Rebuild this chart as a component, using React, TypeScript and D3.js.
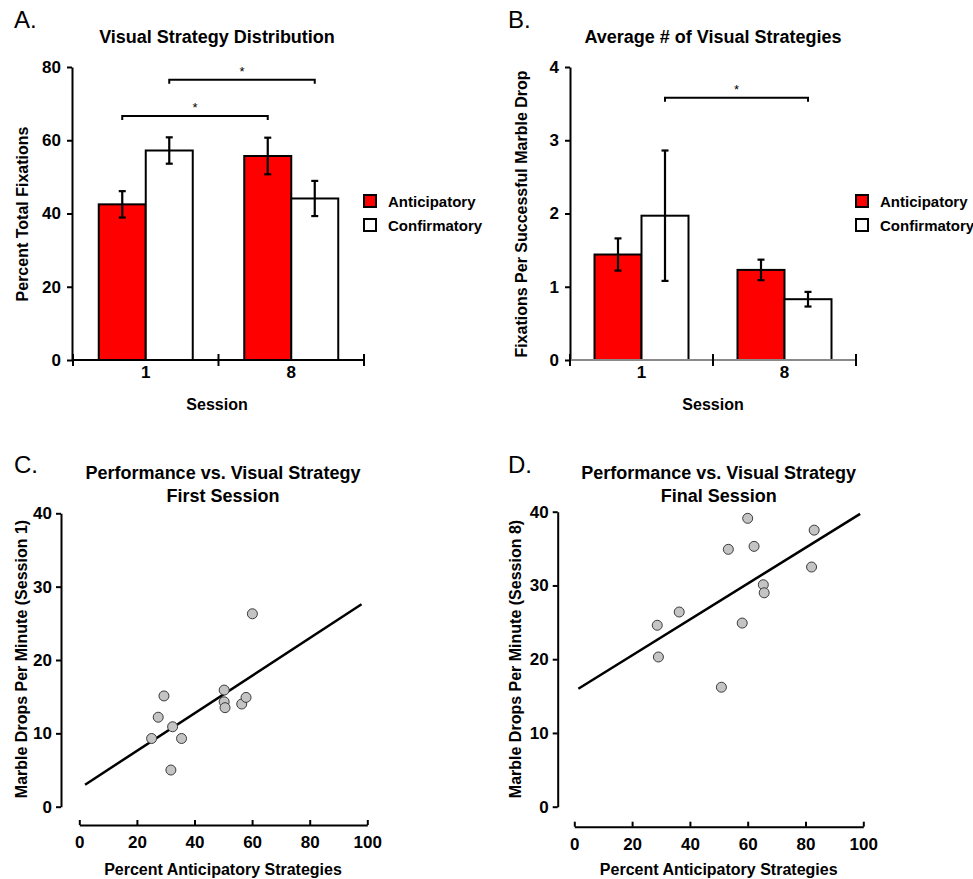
import React, { useRef, useEffect } from "react";
import * as d3 from "d3";

const sessions = ["1", "8"];
const strategies = ["Anticipatory", "Confirmatory"];
const strategyFill = ["#ff0000", "#ffffff"];

// A. percent of total fixations, per session
const distAnticipatory = [42.5, 55.7];
const distAnticipatoryErr = [3.6, 5.0];
const distConfirmatory = [57.2, 44.1];
const distConfirmatoryErr = [3.6, 4.8];
const distBrackets = [
  { strategy: "Anticipatory", level: 66.6 },
  { strategy: "Confirmatory", level: 76.5 },
];

// B. fixations per successful marble drop
const avgAnticipatory = [1.44, 1.23];
const avgAnticipatoryErr = [0.22, 0.14];
const avgConfirmatory = [1.97, 0.83];
const avgConfirmatoryErr = [0.89, 0.1];
const avgBrackets = [{ strategy: "Confirmatory", level: 3.58 }];

// C. first session
const firstPct = [60.1, 29.4, 27.4, 25.1, 32.4, 35.5, 31.8, 50.3, 50.3, 50.6, 56.4, 57.9];
const firstRate = [26.3, 15.1, 12.2, 9.3, 10.9, 9.3, 5.0, 15.9, 14.3, 13.5, 14.0, 14.9];
const firstFitX = [2, 98];
const firstFitY = [3.0, 27.6];

// D. final session
const finalPct = [60.0, 83.0, 53.3, 62.2, 82.1, 65.4, 65.7, 36.3, 28.7, 58.1, 29.1, 50.9];
const finalRate = [39.1, 37.5, 34.9, 35.3, 32.5, 30.1, 29.0, 26.4, 24.6, 24.9, 20.3, 16.2];
const finalFitX = [1.4, 98.9];
const finalFitY = [16.0, 39.7];

const FONT = "'Liberation Sans', Arial, Helvetica, sans-serif";

const App = () => {
  const svgRef = useRef();

  useEffect(() => {
    const svg = d3.select(svgRef.current);
    svg.selectAll("*").remove();

    const txt = (x, y, s, size, opts = {}) =>
      svg
        .append("text")
        .attr("x", x)
        .attr("y", y)
        .attr("text-anchor", opts.anchor || "middle")
        .attr("font-family", FONT)
        .attr("font-size", size)
        .attr("font-weight", opts.weight || "bold")
        .attr("transform", opts.rotate ? `rotate(-90,${x},${y})` : null)
        .attr("fill", "#000")
        .text(s);

    const styleAxis = (g) => {
      g.selectAll("path, line").attr("stroke", "#000").attr("stroke-width", 2);
      g.selectAll("text")
        .attr("font-family", FONT)
        .attr("font-size", 17)
        .attr("font-weight", "bold")
        .attr("fill", "#000");
    };

    const barPanel = (p) => {
      const y = d3.scaleLinear().domain([0, p.max]).range([360, 67]);
      const x = d3.scaleBand().domain(sessions).range(p.band);
      const inner = d3.scaleBand().domain(strategies).range([-47, 47]);

      svg
        .append("g")
        .attr("transform", `translate(${p.x0},0)`)
        .call(
          d3
            .axisLeft(y)
            .tickValues(p.ticks)
            .tickFormat(d3.format("d"))
            .tickSize(5)
            .tickSizeOuter(0)
            .tickPadding(6)
        )
        .call(styleAxis);

      // bars + error bars
      sessions.forEach((s, i) => {
        strategies.forEach((k, j) => {
          const v = p.values[j][i];
          const e = p.errors[j][i];
          const bx = x(s) + x.bandwidth() / 2 + inner(k);
          svg
            .append("rect")
            .attr("x", bx)
            .attr("y", y(v))
            .attr("width", inner.bandwidth())
            .attr("height", y(0) - y(v))
            .attr("fill", strategyFill[j])
            .attr("stroke", "#000")
            .attr("stroke-width", 2);
          const cx = bx + inner.bandwidth() / 2;
          const eb = svg.append("g").attr("stroke", "#000").attr("stroke-width", 2.2);
          eb.append("line").attr("x1", cx).attr("x2", cx).attr("y1", y(v - e)).attr("y2", y(v + e));
          [v - e, v + e].forEach((t) =>
            eb.append("line").attr("x1", cx - 3.5).attr("x2", cx + 3.5).attr("y1", y(t)).attr("y2", y(t))
          );
        });
      });

      // session axis
      const [b0, b1] = x.range();
      svg
        .append("line")
        .attr("x1", b0)
        .attr("x2", b1)
        .attr("y1", y(0))
        .attr("y2", y(0))
        .attr("stroke", p.baseColor)
        .attr("stroke-width", 2);
      [b0, x("8"), b1].forEach((tx) =>
        svg
          .append("line")
          .attr("x1", tx)
          .attr("x2", tx)
          .attr("y1", y(0) - 6)
          .attr("y2", y(0) + 6)
          .attr("stroke", "#000")
          .attr("stroke-width", 2)
      );
      sessions.forEach((s) => txt(x(s) + x.bandwidth() / 2, 377.7, s, 17));

      // significance brackets
      p.brackets.forEach((b) => {
        const xa = x("1") + x.bandwidth() / 2 + inner(b.strategy) + inner.bandwidth() / 2;
        const xb = x("8") + x.bandwidth() / 2 + inner(b.strategy) + inner.bandwidth() / 2;
        const by = y(b.level);
        svg
          .append("path")
          .attr("d", `M${xa},${by + 4}V${by}H${xb}V${by + 4}`)
          .attr("fill", "none")
          .attr("stroke", "#000")
          .attr("stroke-width", 2);
        txt((xa + xb) / 2, by - 4, "*", 13, { weight: "normal" });
      });

      // legend
      strategies.forEach((k, j) => {
        const ly = 195 + j * 24;
        svg
          .append("rect")
          .attr("x", p.legendX)
          .attr("y", ly)
          .attr("width", 12)
          .attr("height", 12)
          .attr("fill", strategyFill[j])
          .attr("stroke", "#000")
          .attr("stroke-width", 2);
        txt(p.legendX + 24, ly + 12, k, 15, { anchor: "start" });
      });

      txt(p.letterX, 28, p.letter, 24, { anchor: "start", weight: "normal" });
      txt(p.titleX, 42.7, p.title, 18);
      txt(p.ylabX, 214, p.ylab, 16, { rotate: true });
      txt(p.titleX, 410, "Session", 16);
    };

    const scatterPanel = (p) => {
      const y = d3.scaleLinear().domain([0, 40]).range([806.7, p.yTop]);
      const x = d3.scaleLinear().domain([0, 100]).range(p.xr);

      svg
        .append("g")
        .attr("transform", `translate(${p.x0},0)`)
        .call(d3.axisLeft(y).tickValues([0, 10, 20, 30, 40]).tickSize(5).tickSizeOuter(0).tickPadding(4))
        .call(styleAxis);
      svg
        .append("g")
        .attr("transform", `translate(0,${p.xAxisY})`)
        .call(d3.axisBottom(x).tickValues([0, 20, 40, 60, 80, 100]).tickSize(-5).tickSizeOuter(0).tickPadding(11))
        .call(styleAxis);

      const line = d3
        .line()
        .x((d) => x(d[0]))
        .y((d) => y(d[1]));
      svg
        .append("path")
        .attr("d", line(p.fitX.map((v, i) => [v, p.fitY[i]])))
        .attr("fill", "none")
        .attr("stroke", "#000")
        .attr("stroke-width", 2.5);

      svg
        .selectAll(null)
        .data(p.px.map((v, i) => [v, p.py[i]]))
        .enter()
        .append("circle")
        .attr("cx", (d) => x(d[0]))
        .attr("cy", (d) => y(d[1]))
        .attr("r", 5)
        .attr("fill", "#c4c4c4")
        .attr("stroke", "#3a3a3a")
        .attr("stroke-width", 1);

      txt(p.letterX, 473, p.letter, 24, { anchor: "start", weight: "normal" });
      txt(p.titleX, 479.3, "Performance vs. Visual Strategy", 18);
      txt(p.titleX, 501.7, p.subtitle, 18);
      txt(p.ylabX, 659, p.ylab, 16, { rotate: true });
      txt(p.titleX, 875, "Percent Anticipatory Strategies", 16);
    };

    barPanel({
      x0: 72,
      band: [73, 364],
      max: 80,
      ticks: [0, 20, 40, 60, 80],
      values: [distAnticipatory, distConfirmatory],
      errors: [distAnticipatoryErr, distConfirmatoryErr],
      brackets: distBrackets,
      baseColor: "#000",
      legendX: 364,
      letter: "A.",
      letterX: 14,
      title: "Visual Strategy Distribution",
      titleX: 217,
      ylab: "Percent Total Fixations",
      ylabX: 28,
    });

    barPanel({
      x0: 570,
      band: [570, 856],
      max: 4,
      ticks: [0, 1, 2, 3, 4],
      values: [avgAnticipatory, avgConfirmatory],
      errors: [avgAnticipatoryErr, avgConfirmatoryErr],
      brackets: avgBrackets,
      baseColor: "#8a8a8a",
      legendX: 856,
      letter: "B.",
      letterX: 508,
      title: "Average # of Visual Strategies",
      titleX: 713,
      ylab: "Fixations Per Successful Marble Drop",
      ylabX: 527,
    });

    scatterPanel({
      x0: 61,
      yTop: 513.3,
      xr: [79.3, 367.3],
      xAxisY: 825,
      px: firstPct,
      py: firstRate,
      fitX: firstFitX,
      fitY: firstFitY,
      letter: "C.",
      letterX: 14,
      subtitle: "First Session",
      titleX: 223,
      ylab: "Marble Drops Per Minute (Session 1)",
      ylabX: 27,
    });

    scatterPanel({
      x0: 557.7,
      yTop: 511.7,
      xr: [574.3, 863.3],
      xAxisY: 826.7,
      px: finalPct,
      py: finalRate,
      fitX: finalFitX,
      fitY: finalFitY,
      letter: "D.",
      letterX: 508,
      subtitle: "Final Session",
      titleX: 718.7,
      ylab: "Marble Drops Per Minute (Session 8)",
      ylabX: 521,
    });
  }, []);

  return (
    <svg
      ref={svgRef}
      width={973}
      height={879}
      style={{ position: "absolute", left: 0, top: 0, background: "#fff" }}
    ></svg>
  );
};

export default App;
